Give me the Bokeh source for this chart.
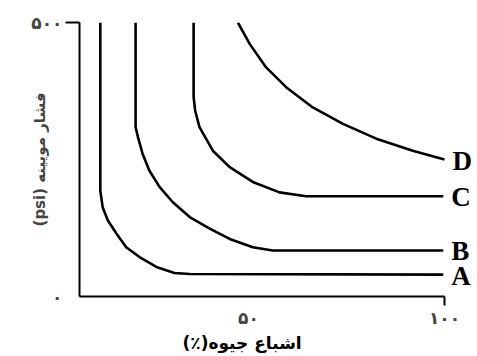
from bokeh.plotting import figure
from bokeh.models import Range1d, FixedTicker, ColumnDataSource, Title
from bokeh.core.properties import value
from bokeh.embed import file_html
from bokeh.resources import INLINE

# Capillary pressure curves
a_sat = [12.2, 12.2, 12.8, 14.1, 16.3, 18.8, 22.2, 26.5, 31.1, 35.0, 99.7]
a_pc = [500, 193, 163, 139, 115, 90, 72, 54, 43, 41, 40]

b_sat = [21.2, 21.2, 21.8, 23.0, 24.7, 27.3, 30.7, 35.0, 40.1, 45.2, 51.1, 56.2, 99.7]
b_pc = [500, 309, 291, 260, 230, 200, 172, 145, 124, 105, 90, 84, 84]

c_sat = [36.0, 36.0, 36.4, 37.5, 40.9, 45.2, 51.1, 57.9, 64.7, 99.7]
c_pc = [500, 364, 339, 309, 266, 236, 209, 190, 183, 183]

d_sat = [47.3, 50.3, 54.5, 59.6, 66.4, 74.1, 82.6, 91.9, 100.0]
d_pc = [500, 461, 418, 382, 345, 315, 288, 266, 250]

curve_names = ["A", "B", "C", "D"]

x_ticks = [50, 100]
x_tick_labels = ["۵۰", "۱۰۰"]
y_ticks = [0, 500]
y_tick_labels = ["۰", "۵۰۰"]

x_title = "اشباع جیوه(٪)\u200f"
y_title = "\u202bفشار مویینه (psi)\u202c"

x_start, x_axis_end, x_end = 6.89, 100, 108.42

p = figure(width=477, height=356, output_backend="svg", toolbar_location=None,
           x_range=Range1d(x_start, x_end), y_range=Range1d(0, 500),
           min_border_left=79, min_border_right=0, min_border_top=22,
           min_border_bottom=60, background_fill_color="white",
           border_fill_color="white")
p.outline_line_color = None
p.grid.visible = False

for xs, ys in [(a_sat, a_pc), (b_sat, b_pc), (c_sat, c_pc), (d_sat, d_pc)]:
    p.line(xs, ys, line_color="black", line_width=2.6, line_join="round")

ends = ColumnDataSource(dict(
    x=[a_sat[-1], b_sat[-1], c_sat[-1], d_sat[-1]],
    y=[a_pc[-1], b_pc[-1], c_pc[-1], d_pc[-1]],
    t=curve_names))
p.text(x="x", y="y", text="t", source=ends, x_offset=8, y_offset=1,
       text_font=value("Liberation Serif"), text_font_style="bold",
       text_font_size="27px", text_baseline="middle", text_color="black")

xa = p.xaxis[0]
xa.bounds = (x_start, x_axis_end)
xa.ticker = FixedTicker(ticks=x_ticks, minor_ticks=[100])
xa.major_label_overrides = dict(zip(x_ticks, x_tick_labels))
xa.major_tick_out = 0
xa.major_tick_in = 0
xa.minor_tick_out = 9
xa.minor_tick_in = 0
xa.minor_tick_line_width = 2
xa.axis_line_width = 2
xa.major_label_text_font = "DejaVu Sans"
xa.major_label_text_font_size = "17px"
xa.major_label_text_font_style = "bold"
xa.major_label_standoff = 2

p.add_layout(Title(text=x_title, align="left", offset=103, standoff=0,
                   text_font="DejaVu Sans", text_font_size="17px",
                   text_font_style="bold", text_color="black"), "below")

ya = p.yaxis[0]
ya.ticker = FixedTicker(ticks=y_ticks, minor_ticks=[500])
ya.major_label_overrides = dict(zip(y_ticks, y_tick_labels))
ya.major_tick_out = 0
ya.major_tick_in = 0
ya.minor_tick_out = 14
ya.minor_tick_in = 0
ya.minor_tick_line_width = 2
ya.axis_line_width = 2
ya.major_label_text_font = "DejaVu Sans"
ya.major_label_text_font_size = "17px"
ya.major_label_text_font_style = "bold"
ya.major_label_standoff = 3
ya.axis_label = y_title
ya.axis_label_text_font = "DejaVu Sans"
ya.axis_label_text_font_size = "15px"
ya.axis_label_text_font_style = "bold"
ya.axis_label_standoff = -21

open("out.html", "w").write(file_html(p, INLINE))
